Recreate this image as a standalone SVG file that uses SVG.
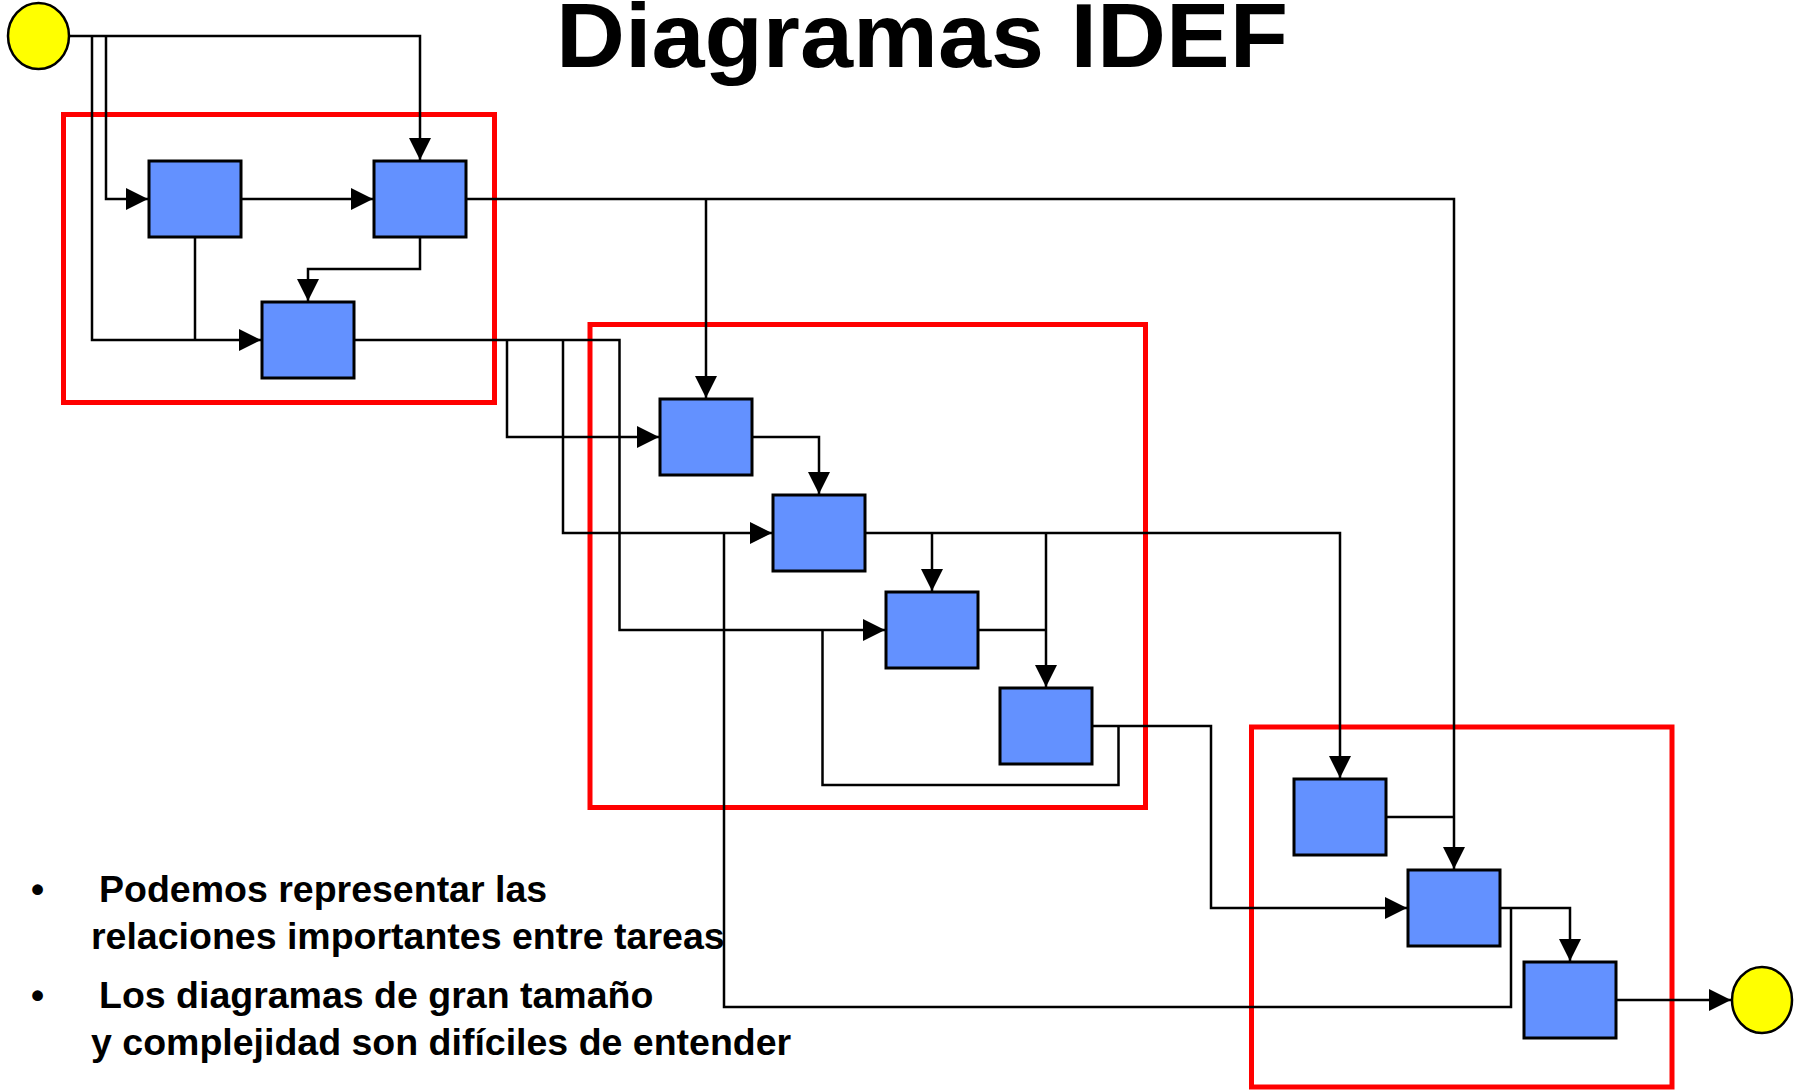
<svg xmlns="http://www.w3.org/2000/svg" width="1807" height="1091" viewBox="0 0 1807 1091">
  <style>
    .task { fill: #6391ff; stroke: #000; stroke-width: 3; }
    .term { fill: #ffff00; stroke: #000; stroke-width: 2.5; }
    .group { fill: none; stroke: #ff0000; stroke-width: 5; }
    .wire { fill: none; stroke: #000; stroke-width: 2.5; }
    .arrow { marker-end: url(#head); }
    .title { font-family: "Liberation Sans", Arial, sans-serif; font-weight: bold; font-size: 90px; fill: #000; }
    .body { font-family: "Liberation Sans", Arial, sans-serif; font-weight: bold; font-size: 37.5px; fill: #000; }
  </style>
  <defs>
    <marker id="head" markerWidth="22" markerHeight="22" refX="22" refY="11" orient="auto" markerUnits="userSpaceOnUse">
      <path d="M0,0 L22,11 L0,22 Z" fill="#000"/>
    </marker>
  </defs>

  <rect width="1807" height="1091" fill="#fff"/>

  <text class="title" x="556" y="67" textLength="732" lengthAdjust="spacingAndGlyphs">Diagramas IDEF</text>

  <!-- grouping frames -->
  <g id="frames">
    <rect class="group" x="63.5" y="114.5" width="431" height="288"/>
    <rect class="group" x="590" y="324.5" width="555.5" height="483"/>
    <rect class="group" x="1251.5" y="727" width="420.5" height="360"/>
  </g>

  <!-- connectors -->
  <g id="connectors">
    <path class="wire arrow" d="M69,36 H420 V160"/>
    <path class="wire arrow" d="M106,36 V199 H148"/>
    <path class="wire arrow" d="M92,36 V340 H261"/>
    <path class="wire arrow" d="M241,199 H373"/>
    <path class="wire" d="M195,237 V340"/>
    <path class="wire arrow" d="M420,237 V269 H308 V301"/>
    <path class="wire arrow" d="M466,199 H1454 V869"/>
    <path class="wire arrow" d="M706,199 V398"/>
    <path class="wire arrow" d="M354,340 H619.5 V630 H885"/>
    <path class="wire arrow" d="M507,340 V437 H659"/>
    <path class="wire arrow" d="M563,340 V533 H772"/>
    <path class="wire arrow" d="M752,437 H819 V494"/>
    <path class="wire arrow" d="M865,533 H1340 V778"/>
    <path class="wire arrow" d="M932,533 V591"/>
    <path class="wire arrow" d="M1046,533 V687"/>
    <path class="wire" d="M978,630 H1046"/>
    <path class="wire arrow" d="M1092,726 H1211 V908 H1407"/>
    <path class="wire" d="M1118.5,726 V785 H822.5 V630"/>
    <path class="wire" d="M1386,817 H1454"/>
    <path class="wire arrow" d="M1500,908 H1570 V961"/>
    <path class="wire" d="M1511,908 V1007 H724 V533"/>
    <path class="wire arrow" d="M1616,1000 H1731"/>
  </g>

  <!-- terminals -->
  <g id="start"><ellipse class="term" cx="38.5" cy="36" rx="30.5" ry="33"/></g>
  <g id="end"><ellipse class="term" cx="1762" cy="1000" rx="30" ry="33"/></g>

  <!-- activities -->
  <g id="task1"><rect class="task" x="149" y="161" width="92" height="76"/></g>
  <g id="task2"><rect class="task" x="374" y="161" width="92" height="76"/></g>
  <g id="task3"><rect class="task" x="262" y="302" width="92" height="76"/></g>
  <g id="task4"><rect class="task" x="660" y="399" width="92" height="76"/></g>
  <g id="task5"><rect class="task" x="773" y="495" width="92" height="76"/></g>
  <g id="task6"><rect class="task" x="886" y="592" width="92" height="76"/></g>
  <g id="task7"><rect class="task" x="1000" y="688" width="92" height="76"/></g>
  <g id="task8"><rect class="task" x="1294" y="779" width="92" height="76"/></g>
  <g id="task9"><rect class="task" x="1408" y="870" width="92" height="76"/></g>
  <g id="task10"><rect class="task" x="1524" y="962" width="92" height="76"/></g>

  <!-- notes -->
  <g id="notes">
    <text class="body" x="31" y="902">•</text>
    <text class="body" x="99" y="902">Podemos representar las</text>
    <text class="body" x="91" y="949">relaciones importantes entre tareas</text>
    <text class="body" x="31" y="1008">•</text>
    <text class="body" x="99" y="1008">Los diagramas de gran tamaño</text>
    <text class="body" x="91" y="1055">y complejidad son difíciles de entender</text>
  </g>
</svg>
